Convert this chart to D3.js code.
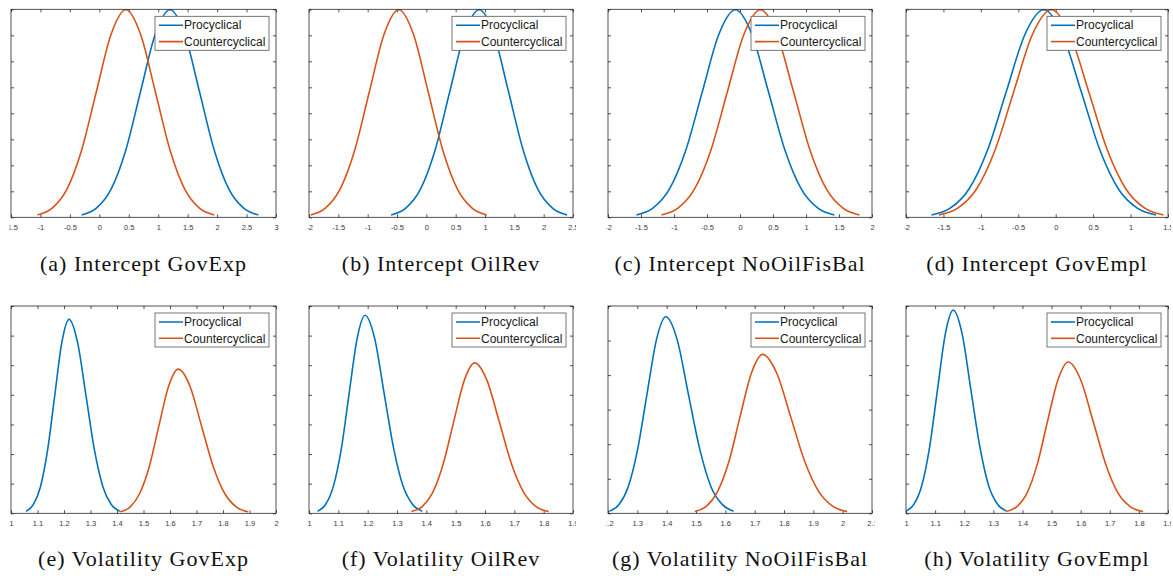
<!DOCTYPE html>
<html>
<head>
<meta charset="utf-8">
<script src="https://cdn.jsdelivr.net/npm/d3@7"></script>
<style>
  body { margin: 0; background: #fff; }
  svg { display: block; }
</style>
</head>
<body>
<div id="chart"></div>
<script>
// Curve points [x, density]
// Intercept panels (top row)
const intGovExpProc = [[-0.3,0.009],[-0.05,0.035],[0.2,0.108],[0.45,0.259],[0.7,0.484],[0.95,0.704],[1.2,0.798],[1.45,0.704],[1.7,0.484],[1.95,0.259],[2.2,0.108],[2.45,0.035],[2.7,0.009]];
const intGovExpCounter = [[-1.05,0.009],[-0.8,0.035],[-0.55,0.108],[-0.3,0.259],[-0.05,0.484],[0.2,0.704],[0.45,0.798],[0.7,0.704],[0.95,0.484],[1.2,0.259],[1.45,0.108],[1.7,0.035],[1.95,0.009]];
const intOilRevProc = [[-0.6,0.009],[-0.35,0.035],[-0.1,0.108],[0.15,0.259],[0.4,0.484],[0.65,0.704],[0.9,0.798],[1.15,0.704],[1.4,0.484],[1.65,0.259],[1.9,0.108],[2.15,0.035],[2.4,0.009]];
const intOilRevCounter = [[-1.97,0.009],[-1.72,0.035],[-1.47,0.108],[-1.22,0.259],[-0.97,0.484],[-0.72,0.704],[-0.47,0.798],[-0.22,0.704],[0.03,0.484],[0.28,0.259],[0.53,0.108],[0.78,0.035],[1.03,0.009]];
const intFisBalProc = [[-1.57,0.009],[-1.32,0.035],[-1.07,0.108],[-0.82,0.259],[-0.57,0.484],[-0.32,0.704],[-0.07,0.798],[0.18,0.704],[0.43,0.484],[0.68,0.259],[0.93,0.108],[1.18,0.035],[1.43,0.009]];
const intFisBalCounter = [[-1.19,0.009],[-0.94,0.035],[-0.69,0.108],[-0.44,0.259],[-0.19,0.484],[0.06,0.704],[0.31,0.798],[0.56,0.704],[0.81,0.484],[1.06,0.259],[1.31,0.108],[1.56,0.035],[1.81,0.009]];
const intGovEmplProc = [[-1.66,0.009],[-1.41,0.035],[-1.16,0.108],[-0.91,0.259],[-0.66,0.484],[-0.41,0.704],[-0.16,0.798],[0.09,0.704],[0.34,0.484],[0.59,0.259],[0.84,0.108],[1.09,0.035],[1.34,0.009]];
const intGovEmplCounter = [[-1.56,0.009],[-1.31,0.035],[-1.06,0.108],[-0.81,0.259],[-0.56,0.484],[-0.31,0.704],[-0.06,0.798],[0.19,0.704],[0.44,0.484],[0.69,0.259],[0.94,0.108],[1.19,0.035],[1.44,0.009]];

// Volatility panels (bottom row)
const volGovExpProc = [[1.057,0.07],[1.084,0.29],[1.111,0.89],[1.138,2.13],[1.165,3.97],[1.192,5.78],[1.219,6.55],[1.251,5.78],[1.283,3.97],[1.315,2.13],[1.347,0.89],[1.379,0.29],[1.411,0.07]];
const volGovExpCounter = [[1.412,0.05],[1.449,0.21],[1.485,0.66],[1.522,1.58],[1.558,2.95],[1.595,4.30],[1.631,4.87],[1.675,4.30],[1.719,2.95],[1.763,1.58],[1.807,0.66],[1.851,0.21],[1.895,0.05]];
const volOilRevProc = [[1.029,0.07],[1.056,0.29],[1.083,0.91],[1.110,2.17],[1.137,4.06],[1.164,5.90],[1.191,6.69],[1.224,5.90],[1.256,4.06],[1.289,2.17],[1.321,0.91],[1.354,0.29],[1.386,0.07]];
const volOilRevCounter = [[1.349,0.06],[1.385,0.22],[1.421,0.69],[1.457,1.65],[1.493,3.08],[1.529,4.48],[1.565,5.08],[1.607,4.48],[1.649,3.08],[1.691,1.65],[1.733,0.69],[1.775,0.22],[1.817,0.06]];
const volFisBalProc = [[1.205,0.06],[1.237,0.25],[1.269,0.77],[1.301,1.85],[1.333,3.45],[1.365,5.02],[1.397,5.69],[1.436,5.02],[1.474,3.45],[1.513,1.85],[1.551,0.77],[1.590,0.25],[1.628,0.06]];
const volFisBalCounter = [[1.496,0.05],[1.535,0.20],[1.573,0.62],[1.612,1.49],[1.650,2.79],[1.689,4.06],[1.727,4.60],[1.775,4.06],[1.823,2.79],[1.871,1.49],[1.919,0.62],[1.967,0.20],[2.015,0.05]];
const volGovEmplProc = [[1.000,0.08],[1.027,0.30],[1.054,0.93],[1.081,2.23],[1.108,4.16],[1.135,6.05],[1.162,6.86],[1.193,6.05],[1.223,4.16],[1.254,2.23],[1.284,0.93],[1.315,0.30],[1.345,0.08]];
const volGovEmplCounter = [[1.345,0.06],[1.380,0.22],[1.416,0.69],[1.451,1.66],[1.486,3.10],[1.522,4.51],[1.557,5.11],[1.600,4.51],[1.643,3.10],[1.686,1.66],[1.728,0.69],[1.771,0.22],[1.814,0.06]];

const captions = [
    "(a) Intercept GovExp", "(b) Intercept OilRev", "(c) Intercept NoOilFisBal", "(d) Intercept GovEmpl",
    "(e) Volatility GovExp", "(f) Volatility OilRev", "(g) Volatility NoOilFisBal", "(h) Volatility GovEmpl"
];
const seriesNames = ["Procyclical", "Countercyclical"];

// x tick labels of each panel
const xTicks = [
    [-1.5, -1, -0.5, 0, 0.5, 1, 1.5, 2, 2.5, 3],
    [-2, -1.5, -1, -0.5, 0, 0.5, 1, 1.5, 2, 2.5],
    [-2, -1.5, -1, -0.5, 0, 0.5, 1, 1.5, 2],
    [-2, -1.5, -1, -0.5, 0, 0.5, 1, 1.5],
    [1, 1.1, 1.2, 1.3, 1.4, 1.5, 1.6, 1.7, 1.8, 1.9, 2],
    [1, 1.1, 1.2, 1.3, 1.4, 1.5, 1.6, 1.7, 1.8, 1.9],
    [1.2, 1.3, 1.4, 1.5, 1.6, 1.7, 1.8, 1.9, 2, 2.1],
    [1, 1.1, 1.2, 1.3, 1.4, 1.5, 1.6, 1.7, 1.8, 1.9]
];
// y ticks (labels fall outside the cropped sub-figures)
const yTicksIntercept = [0, 0.1, 0.2, 0.3, 0.4, 0.5, 0.6, 0.7, 0.8];
const yTicksVol7 = [0, 1, 2, 3, 4, 5, 6, 7];
const yTicksVol6 = [0, 1, 2, 3, 4, 5, 6];
const yTicks = [yTicksIntercept, yTicksIntercept, yTicksIntercept, yTicksIntercept,
                yTicksVol7, yTicksVol7, yTicksVol6, yTicksVol7];

const procCurves = [intGovExpProc, intOilRevProc, intFisBalProc, intGovEmplProc,
                    volGovExpProc, volOilRevProc, volFisBalProc, volGovEmplProc];
const counterCurves = [intGovExpCounter, intOilRevCounter, intFisBalCounter, intGovEmplCounter,
                       volGovExpCounter, volOilRevCounter, volFisBalCounter, volGovEmplCounter];

// layout
const W = 1173, H = 576;
const colLeft = [11, 309, 608, 906];
const colRight = [276, 573, 872, 1168];
const rowTop = [9.3, 306];
const rowBottom = [217.3, 513.3];
const captionY = [271, 566];
const colors = ["#0072BD", "#D95319"];
const axisColor = "#262626";
const fmt = d => String(+d.toFixed(2));

const svg = d3.select("#chart").append("svg")
    .attr("width", W)
    .attr("height", H);

function makePanel(i) {
    const row = Math.floor(i / 4), col = i % 4;
    const x0 = colLeft[col], x1 = colRight[col];
    const y0 = rowTop[row], y1 = rowBottom[row];
    const xt = xTicks[i], yt = yTicks[i];

    const x = d3.scaleLinear().domain([xt[0], xt[xt.length - 1]]).range([x0, x1]);
    const y = d3.scaleLinear().domain([yt[0], yt[yt.length - 1]]).range([y1, y0]);

    // the sub-figures are cropped just outside the axes box
    svg.append("clipPath").attr("id", `clip${i}`)
        .append("rect")
        .attr("x", x0 - 1.5).attr("y", 0)
        .attr("width", x1 - x0 + 4.5).attr("height", H);

    const g = svg.append("g").attr("clip-path", `url(#clip${i})`);

    const styleAxis = sel => {
        sel.select(".domain").remove();
        sel.selectAll("line").attr("stroke", axisColor).attr("stroke-width", 0.8);
        sel.selectAll("text")
            .attr("fill", "#3a3a3a")
            .attr("font-family", "'Liberation Sans', Arial, sans-serif")
            .attr("font-size", 7.5);
    };

    g.append("g")
        .attr("transform", `translate(0, ${y1})`)
        .call(d3.axisBottom(x).tickValues(xt).tickSize(-3).tickPadding(7).tickFormat(fmt))
        .call(styleAxis);
    g.append("g")
        .attr("transform", `translate(0, ${y0})`)
        .call(d3.axisTop(x).tickValues(xt).tickSize(-3).tickFormat(""))
        .call(styleAxis);
    g.append("g")
        .attr("transform", `translate(${x0}, 0)`)
        .call(d3.axisLeft(y).tickValues(yt).tickSize(-3).tickFormat(""))
        .call(styleAxis);
    g.append("g")
        .attr("transform", `translate(${x1}, 0)`)
        .call(d3.axisRight(y).tickValues(yt).tickSize(-3).tickFormat(""))
        .call(styleAxis);

    const line = d3.line()
        .x(d => x(d[0]))
        .y(d => y(d[1]))
        .curve(d3.curveMonotoneX);

    [procCurves[i], counterCurves[i]].forEach((data, k) => {
        g.append("path")
            .datum(data)
            .attr("d", line)
            .attr("fill", "none")
            .attr("stroke", colors[k])
            .attr("stroke-width", 1.6);
    });

    // axes box
    g.append("rect")
        .attr("x", x0).attr("y", y0)
        .attr("width", x1 - x0).attr("height", y1 - y0)
        .attr("fill", "none")
        .attr("stroke", axisColor)
        .attr("stroke-width", 0.8);

    // legend
    const lw = 114, lh = 34;
    const lx = x1 - 7 - lw, ly = y0 + 7;
    const legend = g.append("g").attr("transform", `translate(${lx}, ${ly})`);
    legend.append("rect")
        .attr("width", lw).attr("height", lh)
        .attr("fill", "#fff")
        .attr("stroke", "#555")
        .attr("stroke-width", 0.8);
    seriesNames.forEach((name, k) => {
        const yy = 9 + k * 16.3;
        legend.append("line")
            .attr("x1", 4).attr("x2", 28)
            .attr("y1", yy).attr("y2", yy)
            .attr("stroke", colors[k])
            .attr("stroke-width", 1.6);
        legend.append("text")
            .attr("x", 29).attr("y", yy + 4.2)
            .attr("font-family", "'Liberation Sans', Arial, sans-serif")
            .attr("font-size", 12)
            .attr("fill", "#1a1a1a")
            .text(name);
    });

    // caption
    svg.append("text")
        .attr("x", (x0 + x1) / 2)
        .attr("y", captionY[row])
        .attr("text-anchor", "middle")
        .attr("font-family", "'Liberation Serif', 'Times New Roman', serif")
        .attr("font-size", 22)
        .attr("letter-spacing", "1px")
        .attr("fill", "#111")
        .text(captions[i]);
}

captions.forEach((c, i) => makePanel(i));
</script>
</body>
</html>
